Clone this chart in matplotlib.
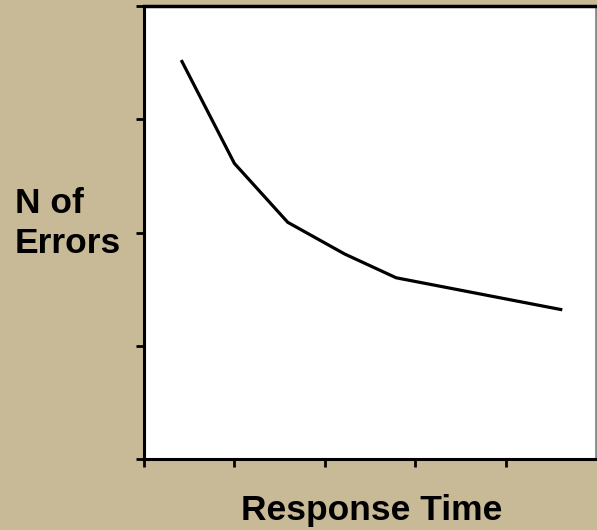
import matplotlib
matplotlib.use("Agg")
import matplotlib.pyplot as plt

# Data
response_time = [0.42, 1.0, 1.59, 2.22, 2.79, 4.61]
n_errors = [3.51, 2.61, 2.09, 1.81, 1.60, 1.32]
x_ticks = [0, 1, 2, 3, 4]
y_ticks = [0, 1, 2, 3, 4]
y_label_lines = ["N of", "Errors"]
x_label = "Response Time"

BG = "#C8BA96"
W, H = 597, 530
fig = plt.figure(figsize=(W / 100, H / 100), dpi=100, facecolor=BG)
ax = fig.add_axes([144 / W, 1 - 459 / H, (596 - 144) / W, (459 - 6) / H])
ax.set_facecolor("white")
ax.plot(response_time, n_errors, color="black", linewidth=2.3, solid_joinstyle="miter")
ax.set_xlim(0, 5)
ax.set_ylim(0, 4)
ax.set_xticks(x_ticks)
ax.set_yticks(y_ticks)
ax.set_xticklabels([])
ax.set_yticklabels([])
ax.tick_params(direction="out", length=6, width=2, color="black")
for s in ["left", "bottom"]:
    ax.spines[s].set_linewidth(2.2)
    ax.spines[s].set_color("black")
ax.spines["top"].set_linewidth(2.5)
ax.spines["top"].set_color("black")
ax.spines["right"].set_linewidth(1.2)
ax.spines["right"].set_color("#808080")

for line, base in zip(y_label_lines, [213, 253]):
    fig.text(15 / W, 1 - base / H, line, ha="left", va="baseline",
             fontsize=25.5, fontweight="bold", family="Liberation Sans")
fig.text(372 / W, 1 - 520 / H, x_label, ha="center", va="baseline",
         fontsize=25.5, fontweight="bold", family="Liberation Sans")

fig.savefig("out.png", dpi=100, facecolor=BG)
